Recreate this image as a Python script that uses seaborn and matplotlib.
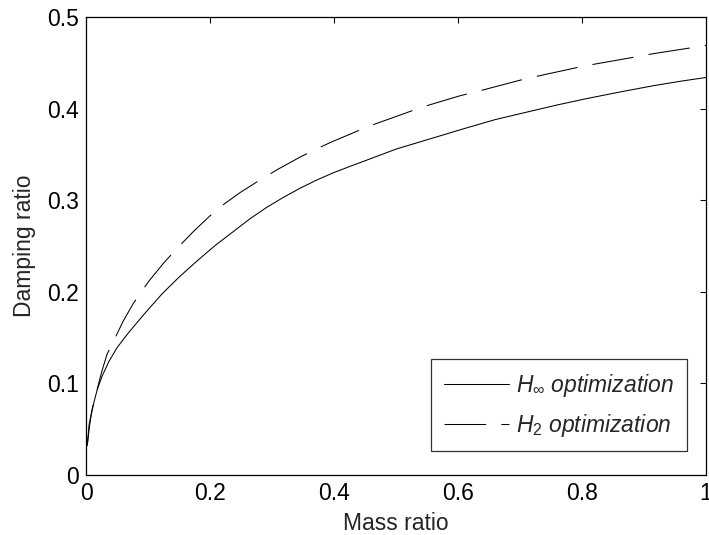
import matplotlib
matplotlib.use("Agg")
import matplotlib.pyplot as plt
import seaborn as sns
import pandas as pd

# ---- data ----
hinf_mass = [0.002, 0.005, 0.0075, 0.010, 0.013, 0.018, 0.026, 0.037, 0.050, 0.067,
             0.083, 0.102, 0.123, 0.150, 0.173, 0.195, 0.211, 0.238, 0.265, 0.291,
             0.318, 0.345, 0.372, 0.399, 0.426, 0.501, 0.560, 0.609, 0.660, 0.716,
             0.760, 0.808, 0.860, 0.915, 0.960, 1.000]
hinf_damp = [0.032, 0.050, 0.062, 0.071, 0.080, 0.093, 0.108, 0.124, 0.139, 0.154,
             0.167, 0.182, 0.198, 0.216, 0.230, 0.243, 0.252, 0.266, 0.280, 0.292,
             0.303, 0.313, 0.322, 0.330, 0.337, 0.356, 0.368, 0.378, 0.388, 0.397,
             0.404, 0.411, 0.418, 0.425, 0.430, 0.434]

h2_mass = [0.002, 0.005, 0.010, 0.016, 0.025, 0.034, 0.045, 0.060, 0.076, 0.088,
           0.103, 0.126, 0.149, 0.175, 0.200, 0.221, 0.250, 0.278, 0.310, 0.345,
           0.369, 0.394, 0.429, 0.453, 0.515, 0.539, 0.603, 0.627, 0.700, 0.732,
           0.800, 0.824, 0.891, 0.915, 0.982, 1.000]
h2_damp = [0.032, 0.055, 0.072, 0.088, 0.112, 0.132, 0.147, 0.168, 0.187, 0.199,
           0.213, 0.232, 0.249, 0.267, 0.283, 0.295, 0.309, 0.321, 0.334, 0.347,
           0.355, 0.363, 0.373, 0.380, 0.395, 0.401, 0.414, 0.418, 0.431, 0.436,
           0.446, 0.449, 0.457, 0.460, 0.467, 0.469]

x_ticks = [0, 0.2, 0.4, 0.6, 0.8, 1]
x_ticklabels = ["0", "0.2", "0.4", "0.6", "0.8", "1"]
y_ticks = [0, 0.1, 0.2, 0.3, 0.4, 0.5]
y_ticklabels = ["0", "0.1", "0.2", "0.3", "0.4", "0.5"]

label_hinf = r"$H_{\infty}$ optimization"
label_h2 = r"$H_2$ optimization"

# ---- style ----
sns.set_style("white")
plt.rcParams["font.family"] = ["Liberation Sans", "DejaVu Sans"]
plt.rcParams["mathtext.fontset"] = "custom"
plt.rcParams["mathtext.rm"] = "Liberation Sans"
plt.rcParams["mathtext.it"] = "Liberation Sans:italic"
plt.rcParams["lines.scale_dashes"] = False

FS = 16.5

fig = plt.figure(figsize=(7.09, 5.35), dpi=100)
ax = fig.add_axes([0.1213, 0.1121, 0.8745, 0.8561])

df1 = pd.DataFrame({"mass": hinf_mass, "damp": hinf_damp})
df2 = pd.DataFrame({"mass": h2_mass, "damp": h2_damp})

sns.lineplot(data=df1, x="mass", y="damp", ax=ax, color="black", linewidth=0.75,
             label=label_hinf, estimator=None, sort=False)
sns.lineplot(data=df2, x="mass", y="damp", ax=ax, color="black", linewidth=0.75,
             label=label_h2, estimator=None, sort=False)
ax.lines[1].set_dashes((30, 11))

ax.set_xlim(0, 1)
ax.set_ylim(0, 0.5)
ax.set_xticks(x_ticks)
ax.set_xticklabels(x_ticklabels)
ax.set_yticks(y_ticks)
ax.set_yticklabels(y_ticklabels)
ax.tick_params(direction="in", length=4.3, width=0.75, top=True, right=True,
               labelsize=FS, pad=5, colors="black")
for s in ax.spines.values():
    s.set_visible(True)
    s.set_color("black")
    s.set_linewidth(0.9)

ax.set_xlabel("Mass ratio", fontsize=FS, labelpad=5)
ax.set_ylabel("Damping ratio", fontsize=FS, labelpad=8)

leg = ax.legend(loc="lower right", bbox_to_anchor=(0.969, 0.052), borderaxespad=0,
                prop={"style": "italic", "size": FS},
                frameon=True, fancybox=False, handlelength=2.85, handletextpad=0.3,
                borderpad=0.55, labelspacing=0.55)
leg.get_frame().set_edgecolor("black")
leg.get_frame().set_linewidth(0.9)

fig.savefig("out.png", dpi=100)
